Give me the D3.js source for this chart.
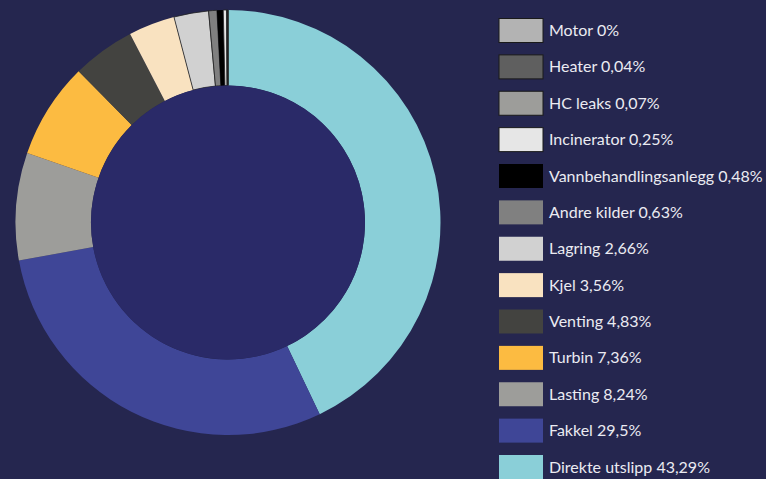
<!DOCTYPE html>
<html>
<head>
<meta charset="utf-8">
<script src="https://cdn.jsdelivr.net/npm/d3@7"></script>
<style>
  html, body { margin: 0; padding: 0; background: #25264f; }
  svg { display: block; }
</style>
</head>
<body>
<svg id="chart" width="766" height="479"></svg>
<script>
// Data (clockwise from 12 o'clock)
const categories = ["Direkte utslipp", "Fakkel", "Lasting", "Turbin", "Venting", "Kjel", "Lagring",
  "Andre kilder", "Vannbehandlingsanlegg", "Incinerator", "HC leaks", "Heater", "Motor"];
const values = [43.29, 29.5, 8.24, 7.36, 4.83, 3.56, 2.66, 0.63, 0.48, 0.25, 0.07, 0.04, 0];
const valueLabels = ["43,29%", "29,5%", "8,24%", "7,36%", "4,83%", "3,56%", "2,66%",
  "0,63%", "0,48%", "0,25%", "0,07%", "0,04%", "0%"];
const colors = ["#8acfd8", "#3f4697", "#9d9d9a", "#fcbb41", "#434340", "#f9e2c0", "#d1d1d1",
  "#808080", "#000000", "#e6e6e6", "#9d9d9a", "#5f5f5f", "#b3b3b3"];
const outlined = ["Lagring", "Andre kilder", "Incinerator", "HC leaks", "Heater", "Motor"];

const svg = d3.select("#chart");
const cx = 228, cy = 222.5, R = 212.5, r = 137;

const pie = d3.pie().sort(null).value(d => d.v);
const arc = d3.arc().innerRadius(r).outerRadius(R);
const data = categories.map((c, i) => ({ c, v: values[i], col: colors[i], lab: valueLabels[i] }));

const g = svg.append("g").attr("transform", `translate(${cx},${cy})`);
g.selectAll("path.slice").data(pie(data)).join("path")
  .attr("class", "slice")
  .attr("d", arc)
  .attr("fill", d => d.data.col)
  .attr("stroke", d => outlined.includes(d.data.c) ? "#222" : "none")
  .attr("stroke-width", 0.8);

g.append("circle").attr("r", r).attr("fill", "#2a2a68");

// Legend (reverse order)
const legendData = data.slice().reverse();
const y = d3.scalePoint().domain(legendData.map(d => d.c)).range([30.5, 467]);
const lg = svg.append("g");
const rows = lg.selectAll("g.row").data(legendData).join("g")
  .attr("class", "row")
  .attr("transform", d => `translate(499,${y(d.c)})`);
rows.append("rect")
  .attr("x", 0).attr("y", -12).attr("width", 44).attr("height", 24)
  .attr("fill", d => d.col)
  .attr("stroke", d => ["Motor", "Heater", "HC leaks", "Incinerator"].includes(d.c) ? "#1a1a1a" : "none")
  .attr("stroke-width", 1);
rows.append("text")
  .attr("x", 50).attr("y", 0).attr("dy", "0.35em")
  .attr("fill", "#ebebf2")
  .style("font-family", "Lato, 'Open Sans', sans-serif")
  .style("font-size", "16px")
  .text(d => `${d.c} ${d.lab}`);
</script>
</body>
</html>
